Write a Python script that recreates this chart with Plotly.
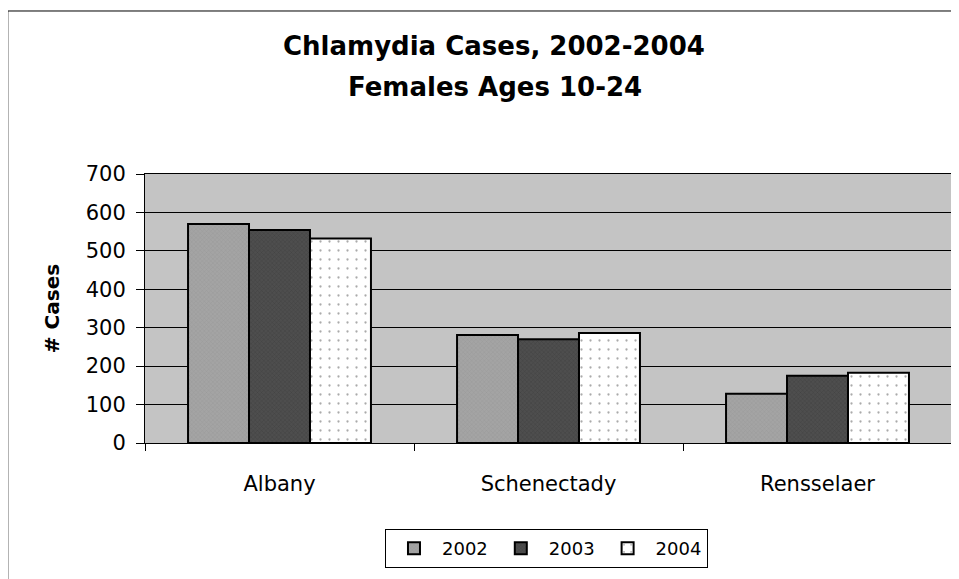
import plotly.graph_objects as go

categories = ["Albany", "Schenectady", "Rensselaer"]
years = ["2002", "2003", "2004"]
cases_2002 = [570, 281, 128]
cases_2003 = [554, 270, 175]
cases_2004 = [532, 286, 183]
y_ticks = [0, 100, 200, 300, 400, 500, 600, 700]
title_line1 = "Chlamydia Cases, 2002-2004"
title_line2 = "Females Ages 10-24"

series = [cases_2002, cases_2003, cases_2004]
fills = ["#a4a4a4", "#4e4e4e", "#ffffff"]
patterns = [dict(shape="x", fgcolor="#8a8a8a", size=3, solidity=0.25),
            dict(shape="x", fgcolor="#333333", size=3, solidity=0.3),
            dict(shape=".", fgcolor="#555555", size=9, solidity=0.05)]

fig = go.Figure()
for yr, vals, col, pat in zip(years, series, fills, patterns):
    fig.add_trace(go.Bar(
        x=categories, y=vals, name=yr,
        marker=dict(color=col, line=dict(color="black", width=2), pattern=pat),
    ))

font = "DejaVu Sans, Liberation Sans, Arial, sans-serif"
fig.update_layout(
    width=951, height=571,
    margin=dict(l=137, r=7, t=166, b=136, autoexpand=False),
    paper_bgcolor="white",
    plot_bgcolor="#c4c4c4",
    barmode="group",
    bargap=0.32,
    bargroupgap=0,
    font=dict(family=font, color="black", size=20),
    legend=dict(
        orientation="h",
        x=0.4975, xanchor="center",
        y=-0.32, yanchor="top",
        bordercolor="black", borderwidth=1,
        font=dict(size=18),
        traceorder="normal",
        itemwidth=46,
    ),
    xaxis=dict(
        showline=True, linecolor="black", linewidth=1, mirror=True,
        ticks="outside", tickson="boundaries", ticklen=7, tickcolor="black",
        ticklabelstandoff=22,
        tickfont=dict(size=21),
        showgrid=False,
        automargin=False,
    ),
    yaxis=dict(
        range=[0, 700],
        tickvals=y_ticks,
        showline=True, linecolor="black", linewidth=1, mirror=True,
        ticks="outside", ticklen=8, tickcolor="black",
        ticklabelstandoff=6,
        showgrid=True, gridcolor="black", gridwidth=1,
        zeroline=False,
        tickfont=dict(size=21),
        title=dict(text="<b># Cases</b>", font=dict(size=20), standoff=20),
        automargin=False,
    ),
    annotations=[
        dict(text="<b>" + title_line1 + "</b>", xref="paper", yref="paper",
             x=0.432, y=1.476, xanchor="center", yanchor="middle",
             showarrow=False, font=dict(size=26)),
        dict(text="<b>" + title_line2 + "</b>", xref="paper", yref="paper",
             x=0.434, y=1.323, xanchor="center", yanchor="middle",
             showarrow=False, font=dict(size=26)),
    ],
    shapes=[dict(type="rect", xref="paper", yref="paper",
                 x0=-0.17, x1=1.03, y0=-0.6, y1=1.606,
                 line=dict(color="black", width=1), fillcolor="rgba(0,0,0,0)",
                 layer="below")],
)

fig.write_html("out.html")
